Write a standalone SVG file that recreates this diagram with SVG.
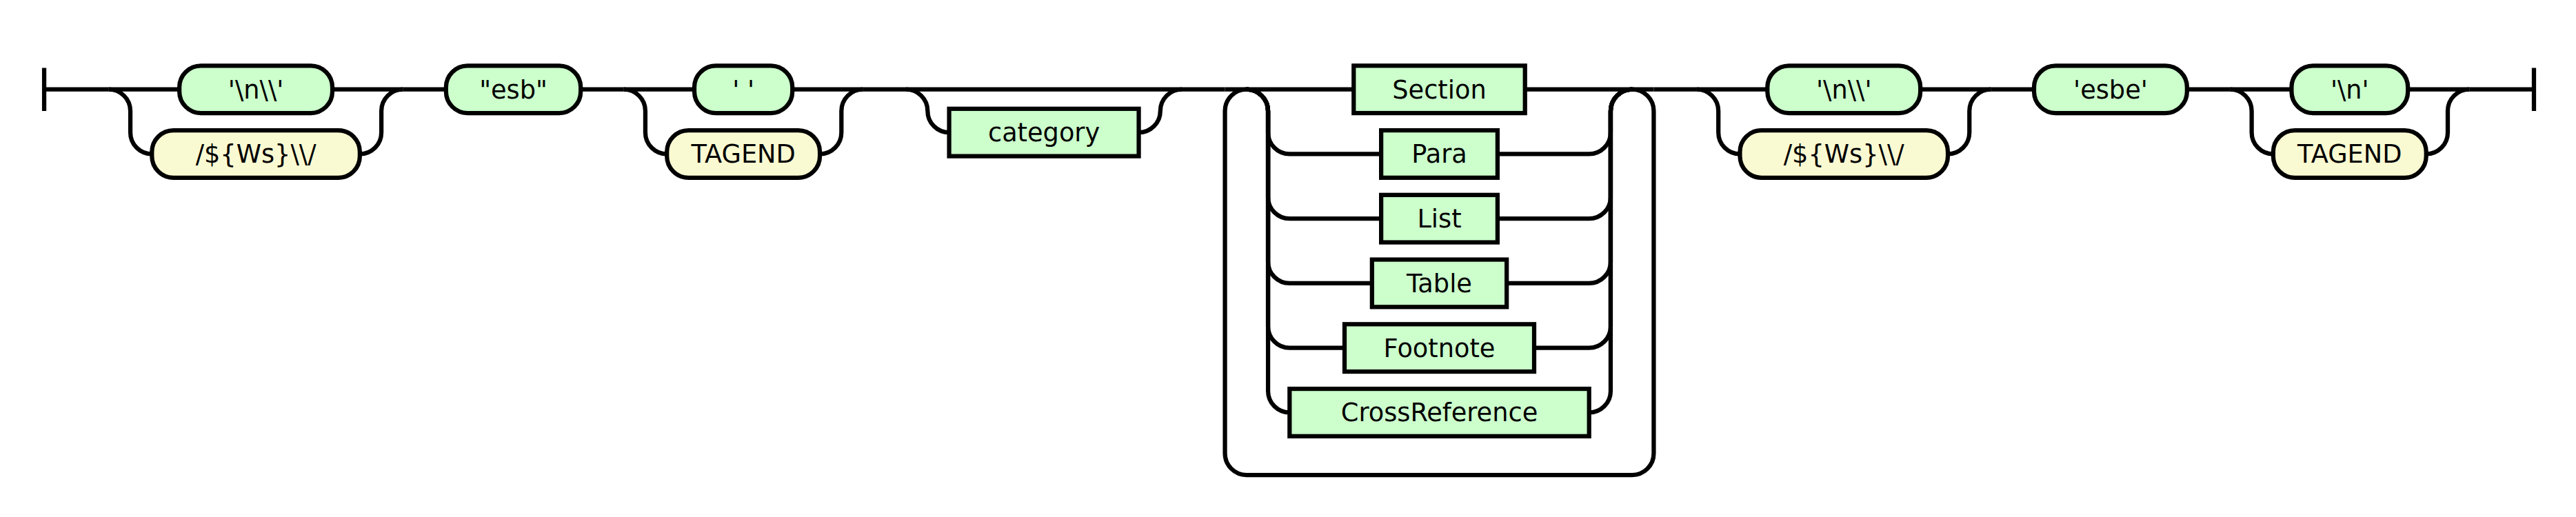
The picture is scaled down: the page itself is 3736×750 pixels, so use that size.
<svg xmlns="http://www.w3.org/2000/svg" width="3736" height="750" viewBox="0 0 3736 750">
<style>
.c path{fill:none;stroke:#000;stroke-width:2}
.t rect,.n rect{fill:#CCFFCC;stroke:#000;stroke-width:2}
.y rect{fill:#FAFAD2;stroke:#000;stroke-width:2}
text{font-family:"DejaVu Sans","Liberation Sans",sans-serif;font-size:11.75px;text-anchor:middle;fill:#000}
</style>
<rect x="0" y="0" width="3736" height="750" fill="#fff"/>
<g transform="scale(3.125) translate(0.5 0.5)">
<g id="connectors" class="c">
<path d="M20 31 v20 M20 41 h30"/>
<path d="M50 41 h32.75 M153.75 41 h32.75"/>
<path d="M50 41 a10 10 0 0 1 10 10 v10 a10 10 0 0 0 10 10"/>
<path d="M166.5 71 a10 10 0 0 0 10 -10 v-10 a10 10 0 0 1 10 -10"/>
<path d="M186.5 41 h20 M269 41 h20"/>
<path d="M289 41 h32.75 M367.25 41 h32.75"/>
<path d="M289 41 a10 10 0 0 1 10 10 v10 a10 10 0 0 0 10 10"/>
<path d="M380 71 a10 10 0 0 0 10 -10 v-10 a10 10 0 0 1 10 -10"/>
<path d="M400 41 h20 M420 41 h128 M548 41 h20"/>
<path d="M420 41 a10 10 0 0 1 10 10 a10 10 0 0 0 10 10"/>
<path d="M528 61 a10 10 0 0 0 10 -10 a10 10 0 0 1 10 -10"/>
<path d="M568 41 h59.75 M707.25 41 h59.75"/>
<path d="M578 41 a10 10 0 0 0 -10 10 v159 a10 10 0 0 0 10 10 h179 a10 10 0 0 0 10 -10 v-159 a10 10 0 0 0 -10 -10"/>
<path d="M578 41 a10 10 0 0 1 10 10 v10 a10 10 0 0 0 10 10 H640.5 M694.5 71 H737 a10 10 0 0 0 10 -10 v-10 a10 10 0 0 1 10 -10"/>
<path d="M578 41 a10 10 0 0 1 10 10 v40 a10 10 0 0 0 10 10 H640.5 M694.5 101 H737 a10 10 0 0 0 10 -10 v-40 a10 10 0 0 1 10 -10"/>
<path d="M578 41 a10 10 0 0 1 10 10 v70 a10 10 0 0 0 10 10 H636.25 M698.75 131 H737 a10 10 0 0 0 10 -10 v-70 a10 10 0 0 1 10 -10"/>
<path d="M578 41 a10 10 0 0 1 10 10 v100 a10 10 0 0 0 10 10 H623.5 M711.5 161 H737 a10 10 0 0 0 10 -10 v-100 a10 10 0 0 1 10 -10"/>
<path d="M578 41 a10 10 0 0 1 10 10 v130 a10 10 0 0 0 10 10 M737 191 a10 10 0 0 0 10 -10 v-130 a10 10 0 0 1 10 -10"/>
<path d="M767 41 h20"/>
<path d="M787 41 h32.75 M890.75 41 h32.75"/>
<path d="M787 41 a10 10 0 0 1 10 10 v10 a10 10 0 0 0 10 10"/>
<path d="M903.5 71 a10 10 0 0 0 10 -10 v-10 a10 10 0 0 1 10 -10"/>
<path d="M923.5 41 h20 M1014.5 41 h20"/>
<path d="M1034.5 41 h28.5 M1117 41 h28.5"/>
<path d="M1034.5 41 a10 10 0 0 1 10 10 v10 a10 10 0 0 0 10 10"/>
<path d="M1125.5 71 a10 10 0 0 0 10 -10 v-10 a10 10 0 0 1 10 -10"/>
<path d="M1145.5 41 h30 M1175.5 31 v20"/>
</g>
<g id="t-nl1" class="t"><rect x="82.75" y="30" width="71" height="22" rx="10" ry="10"/><text x="118.25" y="45.1">'\n\\'</text></g>
<g id="y-ws1" class="y"><rect x="70" y="60" width="96.5" height="22" rx="10" ry="10"/><text x="118.25" y="75.1">/${Ws}\\/</text></g>
<g id="t-esb" class="t"><rect x="206.5" y="30" width="62.5" height="22" rx="10" ry="10"/><text x="237.75" y="45.1">"esb"</text></g>
<g id="t-space" class="t"><rect x="321.75" y="30" width="45.5" height="22" rx="10" ry="10"/><text x="344.5" y="45.1">' '</text></g>
<g id="y-tagend1" class="y"><rect x="309" y="60" width="71" height="22" rx="10" ry="10"/><text x="344.5" y="75.1">TAGEND</text></g>
<g id="n-category" class="n"><rect x="440" y="50" width="88" height="22"/><text x="484" y="65.1">category</text></g>
<g id="n-section" class="n"><rect x="627.75" y="30" width="79.5" height="22"/><text x="667.5" y="45.1">Section</text></g>
<g id="n-para" class="n"><rect x="640.5" y="60" width="54" height="22"/><text x="667.5" y="75.1">Para</text></g>
<g id="n-list" class="n"><rect x="640.5" y="90" width="54" height="22"/><text x="667.5" y="105.1">List</text></g>
<g id="n-table" class="n"><rect x="636.25" y="120" width="62.5" height="22"/><text x="667.5" y="135.1">Table</text></g>
<g id="n-footnote" class="n"><rect x="623.5" y="150" width="88" height="22"/><text x="667.5" y="165.1">Footnote</text></g>
<g id="n-crossref" class="n"><rect x="598" y="180" width="139" height="22"/><text x="667.5" y="195.1">CrossReference</text></g>
<g id="t-nl2" class="t"><rect x="819.75" y="30" width="71" height="22" rx="10" ry="10"/><text x="855.25" y="45.1">'\n\\'</text></g>
<g id="y-ws2" class="y"><rect x="807" y="60" width="96.5" height="22" rx="10" ry="10"/><text x="855.25" y="75.1">/${Ws}\\/</text></g>
<g id="t-esbe" class="t"><rect x="943.5" y="30" width="71" height="22" rx="10" ry="10"/><text x="979" y="45.1">'esbe'</text></g>
<g id="t-nl3" class="t"><rect x="1063" y="30" width="54" height="22" rx="10" ry="10"/><text x="1090" y="45.1">'\n'</text></g>
<g id="y-tagend2" class="y"><rect x="1054.5" y="60" width="71" height="22" rx="10" ry="10"/><text x="1090" y="75.1">TAGEND</text></g>
</g>
</svg>
